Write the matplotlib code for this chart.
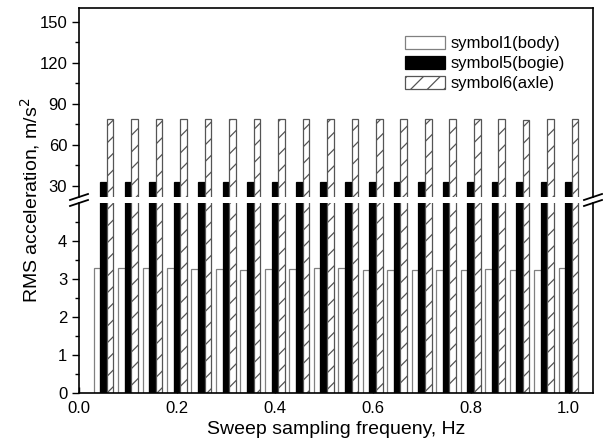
import numpy as np
import matplotlib.pyplot as plt

plt.rcParams['font.family'] = ['Liberation Sans', 'DejaVu Sans']
plt.rcParams['hatch.linewidth'] = 0.9

freq = np.round(np.arange(1, 21) * 0.05, 2)
body = [3.28, 3.29, 3.28, 3.28, 3.27, 3.26, 3.25, 3.26, 3.27, 3.28,
        3.29, 3.25, 3.24, 3.25, 3.24, 3.25, 3.27, 3.25, 3.24, 3.28]
bogie = [33.1, 33.0, 33.1, 33.0, 33.0, 32.9, 33.0, 32.9, 33.0, 33.0,
         32.9, 32.8, 32.9, 32.9, 32.9, 33.0, 32.8, 32.8, 32.9, 33.0]
axle = [79.2, 79.3, 79.1, 79.2, 79.0, 79.1, 79.0, 78.9, 79.0, 79.1,
        78.8, 78.6, 78.9, 78.8, 78.9, 79.0, 78.8, 78.5, 78.7, 79.0]
labels = ["symbol1(body)", "symbol5(bogie)", "symbol6(axle)"]

W, H = 603, 445
fig = plt.figure(figsize=(W / 100, H / 100), dpi=100)
left, right = 79 / W, 593 / W
ax_top = fig.add_axes([left, 1 - 197 / H, right - left, (197 - 8) / H])
ax_bot = fig.add_axes([left, 1 - 393 / H, right - left, (393 - 203) / H])

w = 0.0135
for ax in (ax_top, ax_bot):
    b1 = ax.bar(freq - w, body, w, color="white", edgecolor="#808080", lw=0.9)
    b2 = ax.bar(freq, bogie, w, color="black", edgecolor="black", lw=0.9)
    b3 = ax.bar(freq + w, axle, w, color="white", edgecolor="#555555",
                hatch="//", lw=0.9)
    ax.set_xlim(0, 1.05)
    ax.tick_params(axis="y", which="major", direction="out", length=5,
                   width=1, labelsize=12, right=False)
    ax.tick_params(axis="y", which="minor", direction="out", length=3, width=1)
    ax.tick_params(axis="x", direction="in", length=4, width=1, labelsize=12,
                   pad=6)
    for s in ax.spines.values():
        s.set_linewidth(1.2)

ax_top.set_ylim(22, 160)
ax_top.set_yticks([30, 60, 90, 120, 150])
ax_top.set_yticks([45, 75, 105, 135], minor=True)
ax_top.spines["bottom"].set_visible(False)
ax_top.tick_params(axis="x", bottom=False, labelbottom=False)

ax_bot.set_ylim(0, 5)
ax_bot.set_yticks([0, 1, 2, 3, 4])
ax_bot.set_yticks([0.5, 1.5, 2.5, 3.5, 4.5], minor=True)
ax_bot.spines["top"].set_visible(False)
ax_bot.set_xticks([0.0, 0.2, 0.4, 0.6, 0.8, 1.0])
ax_bot.set_xticklabels(["0.0", "0.2", "0.4", "0.6", "0.8", "1.0"])

# break marks on both side spines
for xp in (79, 593):
    for yp in (197, 203):
        fig.add_artist(plt.Line2D([(xp - 9) / W, (xp + 9) / W],
                                  [1 - (yp + 3) / H, 1 - (yp - 3) / H],
                                  color="black", lw=1.3))

ax_top.legend([b1, b2, b3], labels, loc="upper left", frameon=False,
              bbox_to_anchor=(397 / W, 1 - 28 / H),
              bbox_transform=fig.transFigure, fontsize=12,
              handlelength=2.4, handleheight=0.75, handletextpad=0.3,
              labelspacing=0.3, borderpad=0)

fig.text(30 / W, 1 - 200 / H, "RMS acceleration, m/s$^2$", rotation=90,
         ha="center", va="center", fontsize=14)
fig.text((79 + 593) / 2 / W, 1 - 430 / H, "Sweep sampling frequeny, Hz",
         ha="center", va="center", fontsize=14)

plt.savefig("out.png", dpi=100)
